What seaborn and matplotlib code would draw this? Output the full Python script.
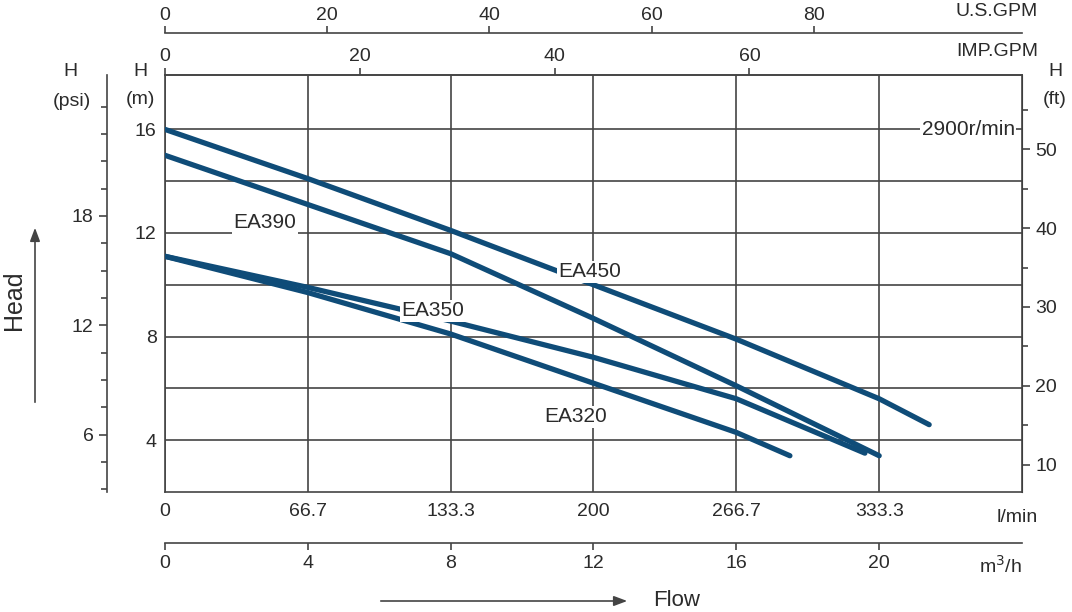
import numpy as np
import pandas as pd
import matplotlib
matplotlib.use("Agg")
import matplotlib.pyplot as plt
import seaborn as sns

# pump curves: flow (m3/h) vs head (m)
flow_450 = [0, 4, 8, 12, 16, 20, 21.4]
head_450 = [16.0, 14.1, 12.1, 10.0, 7.9, 5.6, 4.6]
flow_390 = [0, 4, 8, 12, 16, 20]
head_390 = [15.0, 13.1, 11.2, 8.7, 6.1, 3.4]
flow_350 = [0, 4, 8, 12, 16, 19.6]
head_350 = [11.1, 9.9, 8.6, 7.2, 5.6, 3.5]
flow_320 = [0, 4, 8, 12, 16, 17.5]
head_320 = [11.1, 9.7, 8.1, 6.2, 4.3, 3.4]

labels = ["EA450", "EA390", "EA350", "EA320"]
label_pos = [(11.9, 10.5), (2.8, 12.4), (7.5, 9.0), (11.5, 4.9)]

lmin_ticks = [0, 66.7, 133.3, 200, 266.7, 333.3]
m3h_ticks = [0, 4, 8, 12, 16, 20]
imp_ticks = [0, 20, 40, 60]
us_ticks = [0, 20, 40, 60, 80]
psi_ticks = [6, 12, 18]
ft_ticks = [10, 20, 30, 40, 50]

sns.set_style("white")
plt.rcParams["font.family"] = ["Liberation Sans", "DejaVu Sans"]
TXT = "#2b2b2b"
LINE = "#444444"
CURVE = "#0f4c78"
FS = 14

fig = plt.figure(figsize=(10.72, 6.12), dpi=100)
ax = fig.add_axes([165/1072, 1-492/612, 857/1072, 417/612])
ax.set_xlim(0, 24)
ax.set_ylim(2, 18.1)

df = pd.concat([
    pd.DataFrame({"flow": flow_450, "head": head_450, "model": "EA450"}),
    pd.DataFrame({"flow": flow_390, "head": head_390, "model": "EA390"}),
    pd.DataFrame({"flow": flow_350, "head": head_350, "model": "EA350"}),
    pd.DataFrame({"flow": flow_320, "head": head_320, "model": "EA320"}),
])
sns.lineplot(data=df, x="flow", y="head", units="model", estimator=None,
             sort=False, color=CURVE, lw=3.8, ax=ax, zorder=3, legend=False)

for name, (x, y) in zip(labels, label_pos):
    ax.text(x, y, name, fontsize=15, color=TXT, ha="center", va="center", zorder=4,
            bbox=dict(facecolor="white", edgecolor="none", pad=1))
ax.text(23.8, 16.0, "2900r/min", fontsize=15, color=TXT, ha="right", va="center",
        zorder=4, bbox=dict(facecolor="white", edgecolor="none", pad=1))

ax.set_xticks(m3h_ticks)
ax.set_yticks([4, 8, 12, 16])
ax.set_yticks(np.arange(4, 18, 2), minor=True)
ax.grid(True, which="both", color=LINE, lw=1.2)
ax.set_xlabel("")
ax.set_ylabel("")
for s in ax.spines.values():
    s.set_color(LINE)
    s.set_linewidth(1.2)

# bottom spine: l/min
ax.set_xticklabels([str(t) for t in lmin_ticks])
ax.tick_params(axis="x", colors=LINE, labelcolor=TXT, labelsize=FS, length=0, pad=8)
ax.tick_params(axis="y", colors=LINE, labelcolor=TXT, labelsize=FS, length=0, pad=6)

sec_m3h = ax.secondary_xaxis(-0.122)
sec_m3h.set_xticks(m3h_ticks)
sec_m3h.tick_params(colors=LINE, labelcolor=TXT, labelsize=FS, length=5, width=1.2)
sec_m3h.spines["bottom"].set_color(LINE)
sec_m3h.spines["bottom"].set_linewidth(1.2)

m3h_to_imp = (lambda x: x * 16.667 / 4.546, lambda g: g * 4.546 / 16.667)
m3h_to_us = (lambda x: x * 16.667 / 3.785, lambda g: g * 3.785 / 16.667)
sec_imp = ax.secondary_xaxis("top", functions=m3h_to_imp)
sec_imp.set_xticks(imp_ticks)
sec_imp.tick_params(colors=LINE, labelcolor=TXT, labelsize=FS, length=5, width=1.2, pad=2)
sec_us = ax.secondary_xaxis(1.10, functions=m3h_to_us)
sec_us.set_xticks(us_ticks)
sec_us.tick_params(colors=LINE, labelcolor=TXT, labelsize=FS, length=5, width=1.2, pad=2)
for sx in (sec_imp, sec_us):
    sx.spines["top"].set_color(LINE)
    sx.spines["top"].set_linewidth(1.2)

sec_psi = ax.secondary_yaxis(-0.068, functions=(lambda m: m * 1.422, lambda p: p / 1.422))
sec_psi.set_yticks(psi_ticks)
sec_psi.set_yticks(np.arange(3, 25, 1.5), minor=True)
sec_psi.tick_params(which="major", colors=LINE, labelcolor=TXT, labelsize=FS, length=6, width=1.2)
sec_psi.tick_params(which="minor", colors=LINE, length=4, width=1.2)
sec_psi.spines["left"].set_color(LINE)
sec_psi.spines["left"].set_linewidth(1.2)

sec_ft = ax.secondary_yaxis("right", functions=(lambda m: m * 3.281, lambda f: f / 3.281))
sec_ft.set_yticks(ft_ticks)
sec_ft.set_yticks(np.arange(10, 60, 5), minor=True)
sec_ft.tick_params(which="major", colors=LINE, labelcolor=TXT, labelsize=FS, length=6, width=1.2)
sec_ft.tick_params(which="minor", colors=LINE, length=4, width=1.2)

# axis captions in figure pixels
def ftext(x, y, s, size=FS, **kw):
    fig.text(x/1072, 1-y/612, s, color=TXT, fontsize=size, **kw)

ftext(1038, 12, "U.S.GPM", ha="right", va="center")
ftext(1038, 52, "IMP.GPM", ha="right", va="center")
ftext(1038, 518, "l/min", ha="right", va="center")
ftext(1022, 566, "m$^3$/h", ha="right", va="center")
ftext(70, 72, "H", ha="center", va="center")
ftext(72, 102, "(psi)", ha="center", va="center")
ftext(140, 72, "H", ha="center", va="center")
ftext(140, 100, "(m)", ha="center", va="center")
ftext(1055, 72, "H", ha="center", va="center")
ftext(1055, 100, "(ft)", ha="center", va="center")
ftext(14, 300, "Head", ha="center", va="center", rotation=90, size=18)
ftext(677, 600, "Flow", ha="center", va="center", size=16)

fig.add_artist(matplotlib.patches.FancyArrowPatch(
    (35/1072, 1-405/612), (35/1072, 1-225/612), transform=fig.transFigure,
    arrowstyle="-|>,head_length=8,head_width=3", color=LINE, lw=1.2))
fig.add_artist(matplotlib.patches.FancyArrowPatch(
    (378/1072, 1-601/612), (630/1072, 1-601/612), transform=fig.transFigure,
    arrowstyle="-|>,head_length=8,head_width=3", color=LINE, lw=1.2))

fig.savefig("out.png", dpi=100)
